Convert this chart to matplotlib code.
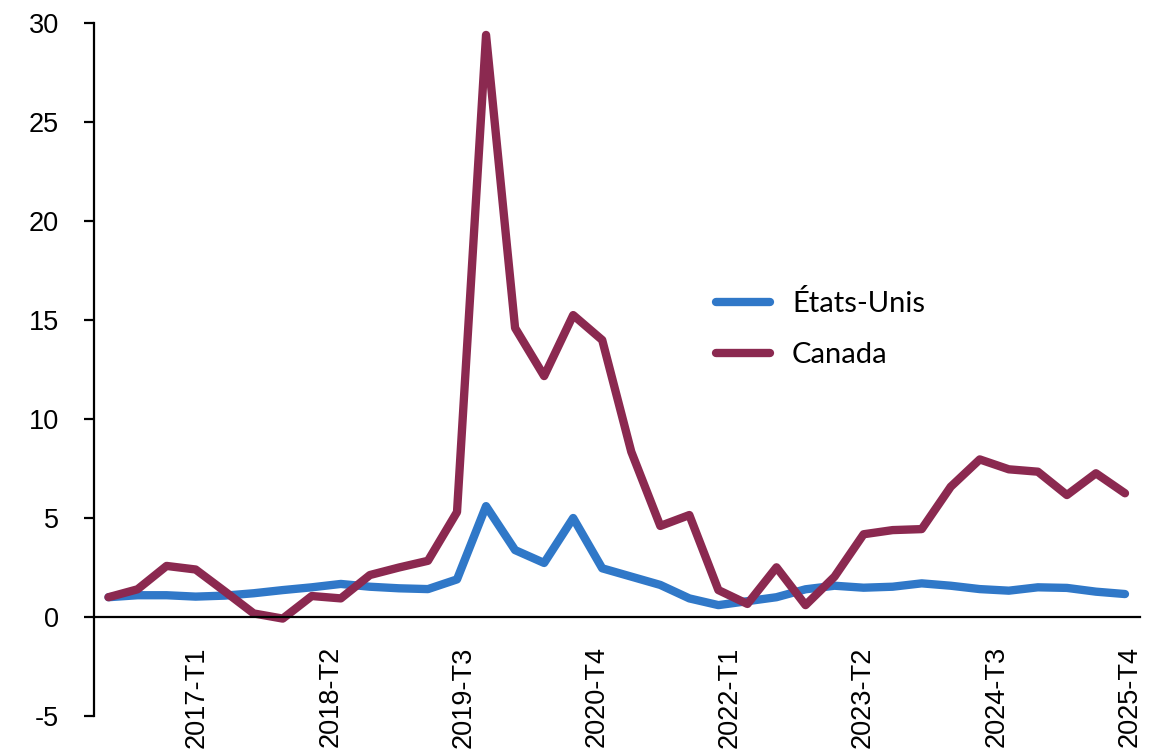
import numpy as np
import matplotlib
matplotlib.use("Agg")
import matplotlib.pyplot as plt

plt.rcParams["font.family"] = ["Liberation Sans", "DejaVu Sans"]
plt.rcParams["axes.unicode_minus"] = False

# quarterly, 2017-T1 .. 2025-T4
trimestres = [f"{a}-T{t}" for a in range(2017, 2026) for t in range(1, 5)]

etats_unis = [1.0, 1.1, 1.1, 1.03, 1.08, 1.2, 1.36, 1.5, 1.67, 1.53, 1.45, 1.41,
              1.9, 5.6, 3.38, 2.73, 5.0, 2.46, 2.04, 1.62, 0.94, 0.6, 0.8, 1.0,
              1.4, 1.58, 1.48, 1.53, 1.7, 1.58, 1.41, 1.33, 1.5, 1.47, 1.28, 1.16]
canada = [1.0, 1.4, 2.58, 2.4, 1.3, 0.18, -0.08, 1.06, 0.94, 2.12, 2.5, 2.84,
          5.3, 29.4, 14.6, 12.17, 15.25, 13.99, 8.35, 4.6, 5.15, 1.36, 0.66, 2.51,
          0.6, 2.04, 4.18, 4.39, 4.44, 6.58, 7.96, 7.46, 7.34, 6.16, 7.26, 6.25]

etiquettes = ["2017-T1", "2018-T2", "2019-T3", "2020-T4",
              "2022-T1", "2023-T2", "2024-T3", "2025-T4"]

bleu = "#3078c8"
bordeaux = "#8b2950"

x = np.arange(len(trimestres))

fig = plt.figure(figsize=(11.63, 7.54), dpi=100)
ax = fig.add_axes([0.0808, 0.0504, 0.899, 0.919])

lw = 6
ax.plot(x, etats_unis, color=bleu, lw=lw, label="États-Unis",
        solid_capstyle="round", solid_joinstyle="round")
ax.plot(x, canada, color=bordeaux, lw=lw, label="Canada",
        solid_capstyle="round", solid_joinstyle="round")

ax.set_xlim(-0.5, len(x) - 0.5)
ax.set_ylim(-5, 30)
ax.set_yticks(np.arange(-5, 31, 5))

for s in ["top", "right"]:
    ax.spines[s].set_visible(False)
ax.spines["bottom"].set_position(("data", 0))
ax.spines["bottom"].set_linewidth(1.6)
ax.spines["left"].set_linewidth(1.6)

# x labels sit below the plot, not on the zero line
ax.set_xticks(np.linspace(3.05, 35.15, len(etiquettes)))
ax.set_xticklabels(etiquettes, rotation=90, ha="center", va="top", fontsize=19.5)
ax.tick_params(axis="x", length=0, pad=21)
ax.tick_params(axis="y", direction="out", length=7, width=1.6, pad=18,
               labelsize=19.5)

leg = ax.legend(loc="upper left", bbox_to_anchor=(0.57, 0.652), frameon=False,
                prop={"family": "Lato", "size": 21}, handlelength=1.85,
                handletextpad=0.75, labelspacing=0.85)

fig.savefig("out.png", dpi=100)
